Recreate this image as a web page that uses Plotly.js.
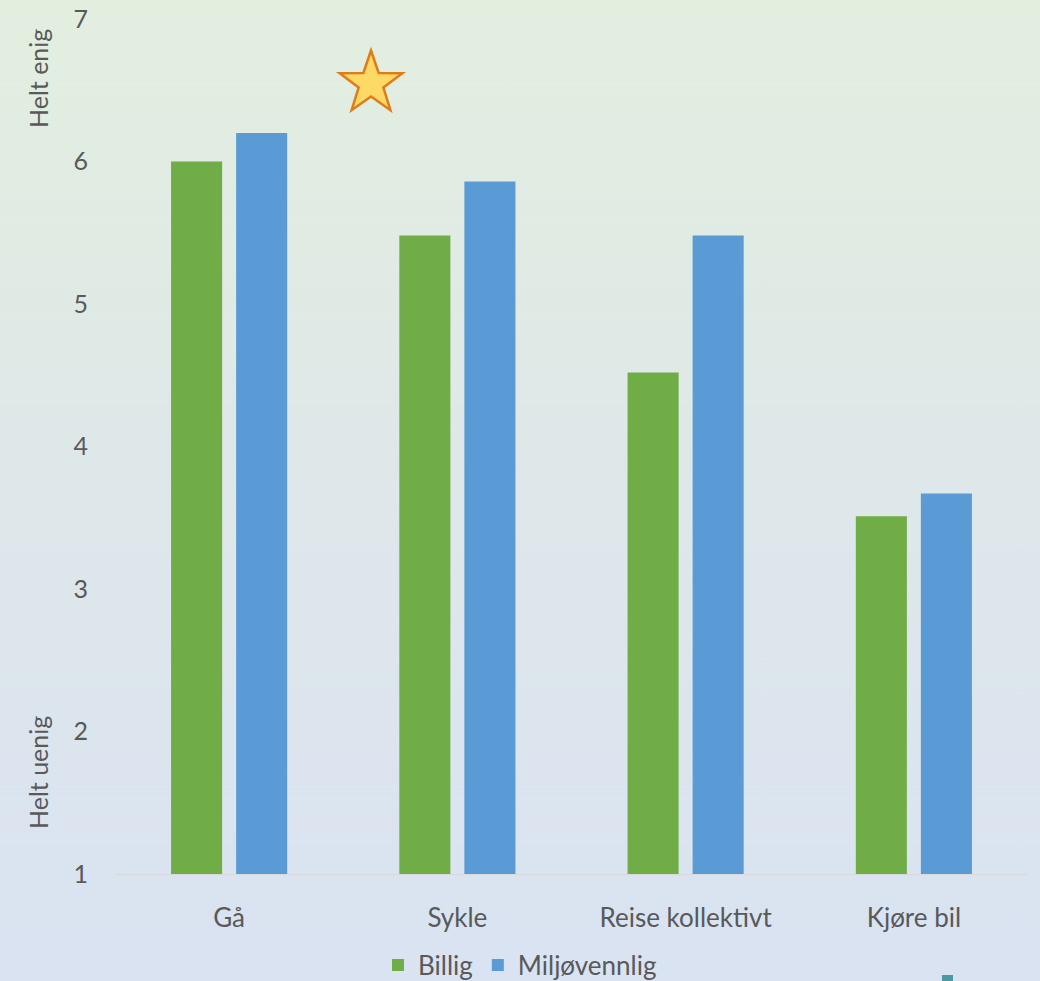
<!DOCTYPE html>
<html>
<head>
<meta charset="utf-8">
<script src="https://cdn.plot.ly/plotly-3.0.1.min.js"></script>
<style>
html,body{margin:0;padding:0;}
body{background:linear-gradient(to bottom,#e2efdf 0%,#dee7e9 50%,#d9e3f2 100%);width:1040px;height:981px;overflow:hidden;}
#chart{width:1040px;height:981px;}
</style>
</head>
<body>
<div id="chart"></div>
<script>
const categories = ["Gå", "Sykle", "Reise kollektivt", "Kjøre bil"];
const billig = [6.0, 5.48, 4.52, 3.51];
const miljovennlig = [6.2, 5.86, 5.48, 3.67];
const yTicks = [1, 2, 3, 4, 5, 6, 7];
const seriesNames = ["Billig", "Miljøvennlig"];
const topLabel = "Helt enig";
const bottomLabel = "Helt uenig";

const W = 1040, H = 981;
const m = {l:115, r:12, t:19, b:107};
const pw = W - m.l - m.r, ph = H - m.t - m.b;
const px = x => (x - m.l) / pw;
const py = y => (H - m.b - y) / ph;

// decorative star
const cx = 371, cy = 83.5, R = 33, r = 13;
let path = "";
for (let i = 0; i < 10; i++) {
  const ang = -Math.PI/2 + i*Math.PI/5;
  const rad = i % 2 === 0 ? R : r;
  const X = px(cx + rad*Math.cos(ang)), Y = py(cy + rad*Math.sin(ang));
  path += (i === 0 ? "M" : "L") + X + "," + Y;
}
path += "Z";

const font = "Lato, 'Open Sans', sans-serif";
const data = [
  {type:"bar", name:seriesNames[0], x:categories, y:billig.map(v => v - 1), base:1,
   customdata:billig, hovertemplate:"%{x}: %{customdata}", marker:{color:"#70ad47"}},
  {type:"bar", name:seriesNames[1], x:categories, y:miljovennlig.map(v => v - 1), base:1,
   customdata:miljovennlig, hovertemplate:"%{x}: %{customdata}", marker:{color:"#5b9bd5"}}
];

const layout = {
  width: W, height: H,
  margin: m,
  paper_bgcolor: "rgba(0,0,0,0)",
  plot_bgcolor: "rgba(0,0,0,0)",
  barmode: "group",
  bargap: 0.43,
  bargroupgap: 0.215,
  font: {family: font, color: "#595959", size: 25},
  xaxis: {
    showgrid:false, zeroline:false, showline:true, linecolor:"#d9d9d9", linewidth:1.3,
    ticks:"", ticklabelstandoff: 20, tickfont:{size:26, color:"#595959"}, fixedrange:true,
    automargin:false
  },
  yaxis: {
    range:[1,7], tickvals:yTicks, showgrid:false, zeroline:false, showline:false,
    ticks:"", ticklabelstandoff: 26, tickfont:{size:25, color:"#595959"}, fixedrange:true,
    automargin:false
  },
  showlegend: true,
  legend: {orientation:"h", x:0.5, xanchor:"center", xref:"container", yref:"container",
    y:(H-965)/H, yanchor:"middle",
    font:{size:26, color:"#595959"}, bgcolor:"rgba(0,0,0,0)", itemwidth:30, tracegroupgap:0},
  annotations: [
    {text: topLabel, xref:"paper", yref:"paper", x:px(38), y:py(79), textangle:-90,
     xanchor:"center", yanchor:"middle",
     showarrow:false, font:{size:25, color:"#595959"}},
    {text: bottomLabel, xref:"paper", yref:"paper", x:px(38), y:py(773), textangle:-90,
     xanchor:"center", yanchor:"middle",
     showarrow:false, font:{size:25, color:"#595959"}}
  ],
  shapes: [
    {type:"path", xref:"paper", yref:"paper", path:path,
     fillcolor:"#ffd966", line:{color:"#e07b19", width:2.5}},
    {type:"rect", xref:"paper", yref:"paper", x0:px(942), x1:px(953), y0:py(975), y1:py(985),
     fillcolor:"#4a9aa0", line:{width:0}}
  ]
};
Plotly.newPlot("chart", data, layout, {displayModeBar:false, staticPlot:true});
</script>
</body>
</html>
